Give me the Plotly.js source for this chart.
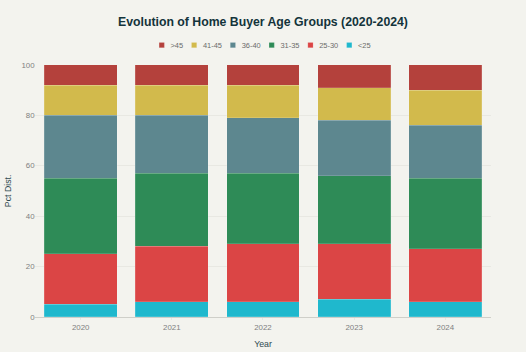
<!DOCTYPE html>
<html>
<head>
<meta charset="utf-8">
<script src="https://cdn.plot.ly/plotly-3.0.1.min.js"></script>
<style>
html,body{margin:0;padding:0;width:526px;height:352px;overflow:hidden;background:#f3f3ee;}
#wrap{width:526px;height:352px;overflow:hidden;position:relative;}
#chart{width:1200px;height:803px;transform:scale(0.43833);transform-origin:0 0;position:absolute;left:0;top:0;}
</style>
</head>
<body>
<div id="wrap"><div id="chart"></div></div>
<script>
const years = ['2020', '2021', '2022', '2023', '2024'];
const groups = ['<25', '25-30', '31-35', '36-40', '41-45', '>45'];
const under25 = [5, 6, 6, 7, 6];
const age25to30 = [20, 22, 23, 22, 21];
const age31to35 = [30, 29, 28, 27, 28];
const age36to40 = [25, 23, 22, 22, 21];
const age41to45 = [12, 12, 13, 13, 14];
const over45 = [8, 8, 8, 9, 10];
const colors = ['#1FB8CD', '#DB4545', '#2E8B57', '#5D878F', '#D2BA4C', '#B4413C'];

const series = [under25, age25to30, age31to35, age36to40, age41to45, over45];
const traces = series.map((vals, i) => ({
  type: 'bar',
  name: groups[i],
  x: years,
  y: vals,
  marker: {color: colors[i], line: {width: 1, color: 'rgba(255,255,255,0.35)'}},
  hovertemplate: '%{x}<br>' + groups[i] + ': %{y}%<extra></extra>'
}));

const layout = {
  width: 1200,
  height: 803,
  barmode: 'stack',
  bargap: 0.2,
  paper_bgcolor: '#f3f3ee',
  plot_bgcolor: '#f3f3ee',
  font: {family: 'Liberation Sans, Arial, sans-serif', size: 16, color: '#6b6b6b'},
  title: {
    text: 'Evolution of Home Buyer Age Groups (2020-2024)',
    font: {size: 28, color: '#13343b', family: 'Liberation Sans, Arial, sans-serif', weight: 'bold'},
    x: 0.5, xanchor: 'center', y: 0.938, yanchor: 'middle'
  },
  margin: {l: 80, r: 80, t: 148, b: 80},
  legend: {
    orientation: 'h', x: 0.5, xanchor: 'center', y: 1.078, yanchor: 'middle',
    traceorder: 'reversed', font: {size: 17, color: '#6b6b6b'}
  },
  xaxis: {
    title: {text: 'Year', font: {size: 20, color: '#2f4a50'}, standoff: 22},
    showline: true, linecolor: '#c9c9c4', linewidth: 2,
    ticks: 'outside', ticklen: 6, tickcolor: '#d8d8d3',
    tickfont: {size: 18, color: '#808080'}
  },
  yaxis: {
    title: {text: 'Pct Dist.', font: {size: 20, color: '#2f4a50'}, standoff: 18},
    range: [0, 100], dtick: 20,
    gridcolor: '#e2e2dc', gridwidth: 1.5, zeroline: false,
    tickfont: {size: 18, color: '#808080'}
  }
};

Plotly.newPlot('chart', traces, layout, {displayModeBar: false, staticPlot: true});
</script>
</body>
</html>
